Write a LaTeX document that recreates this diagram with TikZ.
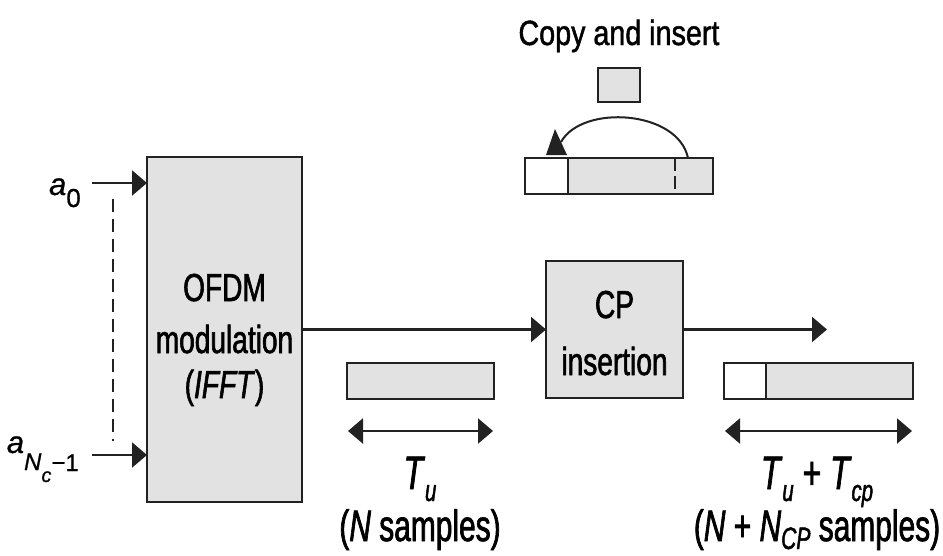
\documentclass[tikz,border=0pt]{standalone}
\usepackage{fontspec}
\setmainfont[FakeBold=0.6]{Liberation Sans}
\newfontfamily\headfont[FakeStretch=0.82, FakeBold=1.3]{Liberation Sans}
\newfontfamily\blockfont[FakeStretch=0.72, FakeBold=1.5]{Liberation Sans}
\newfontfamily\dimfont[FakeStretch=0.68, FakeBold=1.5]{Liberation Sans}
\newfontfamily\symfont[FakeBold=0.8]{Liberation Sans}
\usetikzlibrary{arrows.meta}

\definecolor{ink}{HTML}{222222}
\definecolor{blockgray}{HTML}{E2E2E2}

% lowered (subscript-like) piece of text
\newcommand\lowered[3]{\raisebox{-#1}{\fontsize{#2}{#2}\selectfont #3}}

\tikzset{
  block/.style={draw=ink, line width=2.2pt, fill=blockgray, inner sep=0pt, outer sep=0pt},
  bar/.style={draw=ink, line width=2pt, fill=blockgray, inner sep=0pt, outer sep=0pt, minimum height=36pt},
  flow/.style={draw=ink, line width=2.2pt, -{Triangle[length=15pt,width=25pt]}},
  span/.style={draw=ink, line width=2.2pt, {Triangle[length=15pt,width=25pt]}-{Triangle[length=15pt,width=25pt]}},
  blocktext/.style={anchor=base, inner sep=0pt, font=\blockfont\fontsize{39}{39}\selectfont},
  dimtext/.style={anchor=base, inner sep=0pt, font=\dimfont\fontsize{44}{44}\selectfont},
  symtext/.style={anchor=base east, inner sep=0pt, font=\symfont\fontsize{31}{31}\selectfont},
}

\begin{document}
\begin{tikzpicture}[x=1pt, y=-1pt]
\useasboundingbox (0,0) rectangle (943,555);

% ---------- blocks ----------
\node[block, minimum width=155pt, minimum height=345pt] (ofdm) at (224.5,329.5) {};
\node[block, minimum width=137pt, minimum height=137pt] (cp) at (614.5,329.5) {};

\node[blocktext] (ofdmA) at (224.5,301) {OFDM};
\node[blocktext] (ofdmB) at (224.5,353) {modulation};
\node[blocktext] (ofdmC) at (224.5,398) {(\textit{IFFT})};
\node[blocktext] (cpA) at (614.5,318) {CP};
\node[blocktext] (cpB) at (614.5,375) {insertion};

% ---------- inputs ----------
\coordinate (in0) at (92,183);
\coordinate (inN) at (92,455);
\draw[flow] (in0) -- (ofdm.west |- in0);
\draw[flow] (inN) -- (ofdm.west |- inN);
\coordinate (dotsTop) at (113,199);
\coordinate (dotsBot) at (113,441);
\draw[ink, line width=1.5pt, dash pattern=on 13pt off 7pt] (dotsTop) -- (dotsBot);

\node[symtext] (a0) at (81,195) {\textit{a}\lowered{12pt}{26}{0}};
\node[symtext] (aN) at (79,453) {\textit{a}\lowered{17pt}{24}{\textit{N}\lowered{12pt}{20}{\textit{c}}}\lowered{18pt}{24}{\char"2212 1}};

% ---------- signal path ----------
\coordinate (out) at (827,329.5);
\draw[flow] (ofdm.east) -- (cp.west);
\draw[flow] (cp.east) -- (out);

% ---------- copy and insert ----------
\node[anchor=base, inner sep=0pt, font=\headfont\fontsize{35}{35}\selectfont] (copylbl) at (619,45) {Copy and insert};
\node[bar, minimum width=42pt, minimum height=34pt] (copyblk) at (619,85) {};

\node[bar, fill=white, minimum width=43pt, anchor=west] (topcp) at (525,176) {};
\node[bar, minimum width=145pt, anchor=west] (topbody) at (topcp.east) {};
\coordinate (cutTop) at (675,158);
\coordinate (cutBot) at (675,194);
\draw[ink, line width=1.6pt, dash pattern=on 13pt off 5pt] (cutTop) -- (cutBot);

\coordinate (arcFrom) at (688,158);
\coordinate (arcTo) at (561,142);
\draw[ink, line width=2pt] (arcFrom) .. controls (678,110) and (582,104) .. (arcTo);
\fill[ink] (546,155) -- (567,155) -- (555,129) -- cycle;

% ---------- symbol before CP insertion ----------
\node[bar, minimum width=147pt] (ubar) at (420.5,381) {};
\coordinate (uL) at (348,431);
\coordinate (uR) at (493,431);
\draw[span] (uL) -- (uR);
\node[dimtext] (tu) at (420,489) {\fontsize{47}{47}\selectfont\textit{T}\lowered{12pt}{30}{\textit{u}}};
\node[dimtext] (nsamp) at (420,541) {(\textit{N} samples)};

% ---------- symbol after CP insertion ----------
\node[bar, fill=white, minimum width=42pt, anchor=west] (outcp) at (724,381) {};
\node[bar, minimum width=147pt, anchor=west] (outbody) at (outcp.east) {};
\coordinate (vL) at (725,431);
\coordinate (vR) at (912,431);
\draw[span] (vL) -- (vR);
\node[dimtext] (tucp) at (817,489) {\fontsize{47}{47}\selectfont\textit{T}\lowered{12pt}{30}{\textit{u}} + \textit{T}\lowered{12pt}{30}{\textit{cp}}};
\node[dimtext] (ncp) at (817,541) {(\textit{N} + \textit{N}\lowered{8pt}{31}{\textit{CP}} samples)};
\end{tikzpicture}
\end{document}
